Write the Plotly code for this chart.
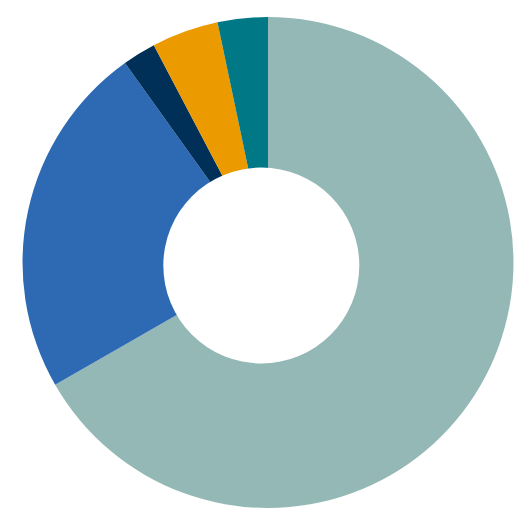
"""Donut chart recreation."""

import plotly.graph_objects as go

labels = ["A", "B", "C", "D", "E"]
values = [66.7, 23.4, 2.2, 4.4, 3.3]
colors = ["#94B8B6", "#2D6AB3", "#003057", "#EB9A00", "#007886"]

fig = go.Figure(
    data=[
        go.Pie(
            labels=labels,
            values=values,
            hole=0.3,
            sort=False,
            direction="clockwise",
            rotation=0,
            textinfo="none",
            hoverinfo="label+percent",
            marker_colors=colors,
            marker_line=dict(width=0),
            domain=dict(x=[0.0273, 0.952], y=[0.0584, 0.983]),
        )
    ]
)

# the white centre sits a little off the ring's centre in the original
fig.add_shape(
    type="circle",
    xref="paper",
    yref="paper",
    x0=0.2925,
    x1=0.6616,
    y0=0.3305,
    y1=0.6996,
    fillcolor="white",
    line_width=0,
    layer="above",
)

fig.update_layout(
    width=531,
    height=531,
    margin=dict(l=0, r=0, t=0, b=0),
    showlegend=False,
    paper_bgcolor="white",
)

fig.write_html("out.html")
